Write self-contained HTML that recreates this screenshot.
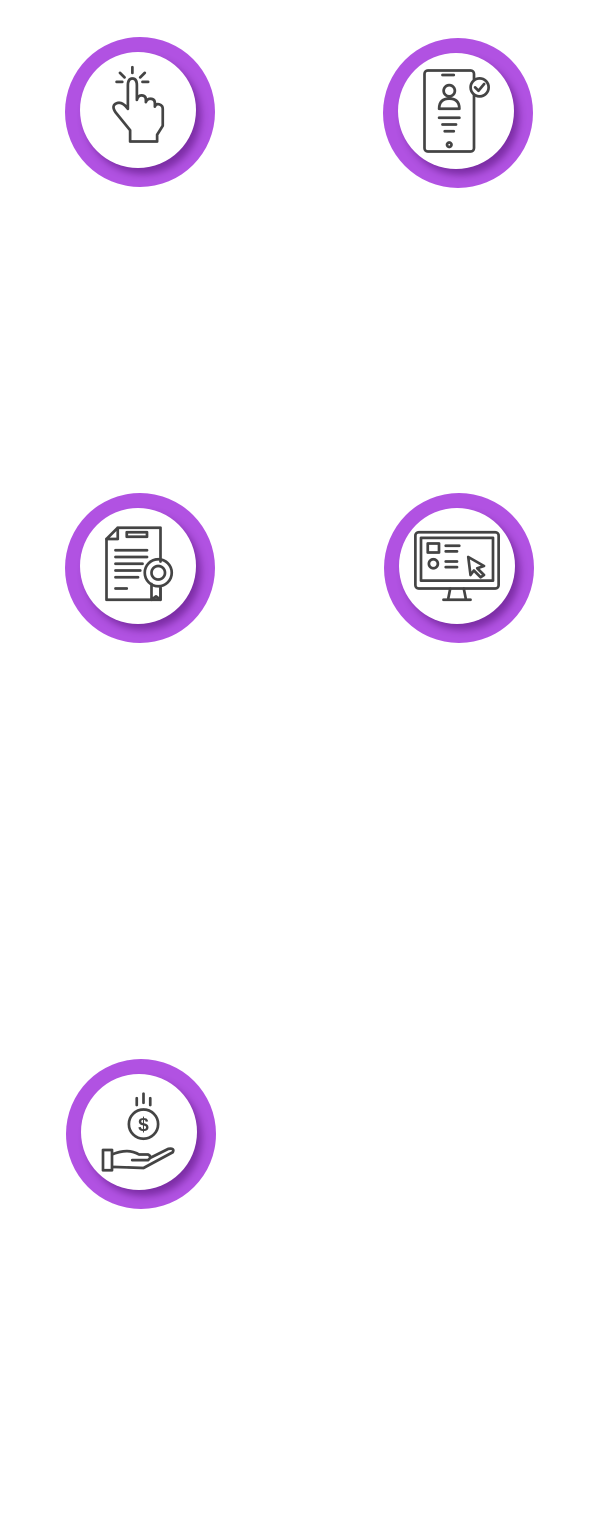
<!DOCTYPE html>
<html><head><meta charset="utf-8"><style>
html,body{margin:0;padding:0;background:#fff;width:609px;height:1536px;overflow:hidden}
.c{position:absolute;width:150px;height:150px;border-radius:50%;background:#b152e2}
.i{position:absolute;left:15px;top:15px;width:116px;height:116px;border-radius:50%;background:#fff;box-shadow:5px 6px 8px rgba(60,0,90,0.45)}
.i svg{position:absolute;left:13px;top:13px;width:90px;height:90px}
svg *{fill:none;stroke:#444;stroke-width:2.4;stroke-linecap:round;stroke-linejoin:round}
</style></head><body>
<div class="c" style="left:65px;top:37px"><div class="i"><svg viewBox="0 0 80 80">
<path d="M33 68 V58 L20 42 Q16 36 21 34 Q26 32 31 39 V18 Q31 12 35 12 Q39 12 39 18 V31 Q40 27 43 27 Q47 27 47 31 V33 Q48 30 51 30 Q55 30 55 34 V37 Q56 34 59 35 Q62 36 62 39 V54 L57 62 V68 Z"/>
<path d="M35 2 V7 M24 7 L28 11 M46 7 L42 11 M21 15 H26 M44 15 H49"/></svg></div></div>
<div class="c" style="left:383px;top:38px"><div class="i"><svg viewBox="0 0 80 80">
<rect x="12" y="4" width="44" height="72" rx="3"/><path d="M28 8 H38 M25 46 H43 M28 52 H40 M30 58 H38"/><circle cx="34" cy="70" r="2"/>
<circle cx="34" cy="22" r="5"/><path d="M25 38 Q25 29 34 29 Q43 29 43 38 Z"/>
<circle cx="61" cy="19" r="8" style="fill:#fff"/><path d="M57 19 L60 22 L65 16"/></svg></div></div>
<div class="c" style="left:65px;top:493px"><div class="i"><svg viewBox="0 0 80 80">
<path d="M60 36 V6 H22 L12 16 V70 H60 V60"/><path d="M12 16 H22 V6"/><path d="M30 10 H48 V14 H30 Z"/><path d="M20 26 H48 M20 32 H48 M20 38 H44 M20 44 H42 M20 50 H40 M20 60 H30"/>
<circle cx="58" cy="46" r="12"/><circle cx="58" cy="46" r="6"/><path d="M52 56 V70 L56 67 L60 70 V58"/></svg></div></div>
<div class="c" style="left:384px;top:493px"><div class="i"><svg viewBox="0 0 80 80">
<rect x="3" y="10" width="74" height="50" rx="3"/><rect x="8" y="15" width="64" height="38"/><path d="M34 60 L32 70 H48 L46 60 M28 70 H52"/>
<rect x="14" y="20" width="10" height="8"/><circle cx="19" cy="38" r="4"/><path d="M30 22 H42 M30 27 H40 M30 36 H40 M30 41 H40"/><path d="M50 32 L64 40 L58 42 L64 48 L61 50 L55 44 L52 48 Z"/></svg></div></div>
<div class="c" style="left:66px;top:1059px"><div class="i"><svg viewBox="0 0 80 80">
<circle cx="44" cy="33" r="13"/><text x="44" y="39" text-anchor="middle" style="fill:#444;stroke:none;font:bold 17px 'Liberation Sans',sans-serif">$</text>
<path d="M38 10 V16 M44 6 V14 M50 10 V16"/><path d="M8 56 H16 V74 H8 Z M16 60 Q30 54 40 60 H48 Q52 62 48 65 H34 M16 71 L44 72 L70 58 Q72 54 66 55 L50 63"/></svg></div></div>
</body></html>
